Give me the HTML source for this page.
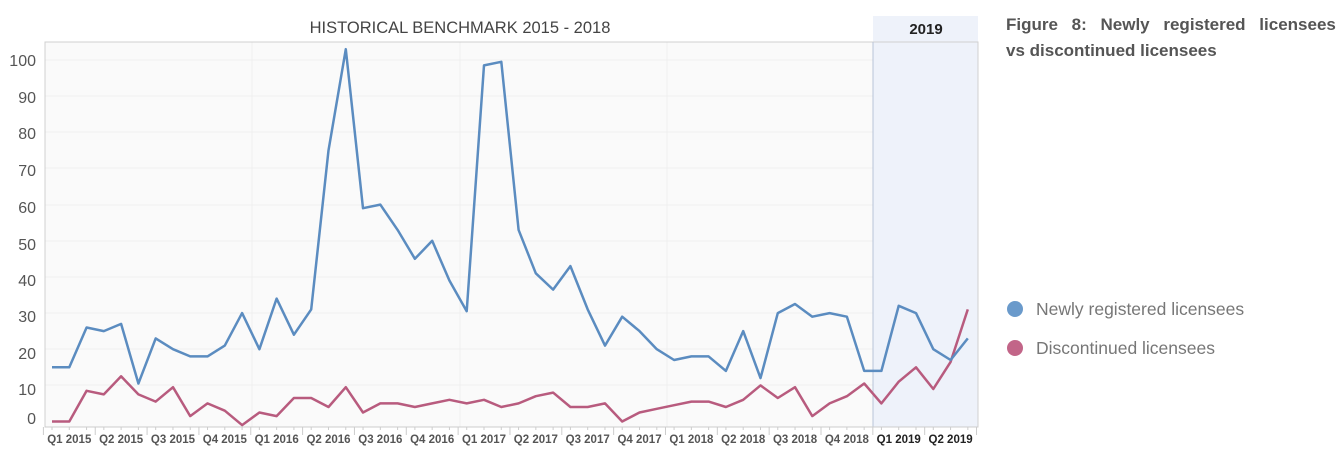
<!DOCTYPE html>
<html><head><meta charset="utf-8"><style>
body{margin:0;background:#fff;width:1343px;height:459px;overflow:hidden;font-family:"Liberation Sans",sans-serif}
svg{display:block}
</style></head><body>
<svg id="s" width="1343" height="459" xmlns="http://www.w3.org/2000/svg" font-family="Liberation Sans, sans-serif">
<rect x="45" y="42" width="828" height="385" fill="#fafafa"/>
<rect x="873" y="16" width="105" height="411" fill="#eef2fa"/>
<g stroke="#f0f0f0" stroke-width="1">
<line x1="45" y1="60" x2="873" y2="60"/><line x1="45" y1="96" x2="873" y2="96"/><line x1="45" y1="132" x2="873" y2="132"/><line x1="45" y1="168" x2="873" y2="168"/><line x1="45" y1="205" x2="873" y2="205"/><line x1="45" y1="241" x2="873" y2="241"/><line x1="45" y1="277" x2="873" y2="277"/><line x1="45" y1="313" x2="873" y2="313"/><line x1="45" y1="349" x2="873" y2="349"/><line x1="45" y1="385" x2="873" y2="385"/>
<line x1="252" y1="42" x2="252" y2="427"/><line x1="460" y1="42" x2="460" y2="427"/><line x1="667" y1="42" x2="667" y2="427"/>
</g>
<rect x="45" y="42" width="933" height="385" fill="none" stroke="#d0d0d0"/>
<line x1="873" y1="42" x2="873" y2="427" stroke="#b8c4d8"/>
<line x1="45" y1="427" x2="978" y2="427" stroke="#ccc"/>
<g id="ticks" stroke="#ccc"></g>
<text x="460" y="33" font-size="16.5" fill="#444" text-anchor="middle">HISTORICAL BENCHMARK 2015 - 2018</text>
<text x="926" y="34" font-size="15" font-weight="bold" fill="#222" text-anchor="middle">2019</text>
<g font-size="16" fill="#555" text-anchor="end">
<text x="36" y="66">100</text><text x="36" y="103">90</text><text x="36" y="139">80</text><text x="36" y="176">70</text><text x="36" y="213">60</text><text x="36" y="250">50</text><text x="36" y="286">40</text><text x="36" y="322">30</text><text x="36" y="359">20</text><text x="36" y="395">10</text><text x="36" y="424">0</text>
</g>
<g id="xl" font-size="11.5" font-weight="bold" fill="#555" text-anchor="middle"></g>
<polyline id="red" fill="none" stroke="#b85b7e" stroke-width="2.5" stroke-linejoin="round"/>
<polyline id="blue" fill="none" stroke="#5b8cc0" stroke-width="2.5" stroke-linejoin="round"/>
<text x="1006" y="30" font-size="17" font-weight="bold" fill="#555" word-spacing="9">Figure 8: Newly registered licensees</text>
<text x="1006" y="56" font-size="17" font-weight="bold" fill="#555">vs discontinued licensees</text>
<circle cx="1015" cy="309" r="8" fill="#6a9acb"/>
<circle cx="1015" cy="348" r="8" fill="#c26588"/>
<text x="1036" y="315" font-size="17.5" fill="#777">Newly registered licensees</text>
<text x="1036" y="354" font-size="17.5" fill="#777">Discontinued licensees</text>
</svg>
<script>
var B=[15,15,26,25,27,10.5,23,20,18,18,21,30,20,34,24,31,75,103,59,60,53,45,50,39,30.5,98.5,99.5,53,41,36.5,43,31,21,29,25,20,17,18,18,14,25,12,30,32.5,29,30,29,14,14,32,30,20,17,23];
var R=[0,0,8.5,7.5,12.5,7.5,5.5,9.5,1.5,5,3,-1,2.5,1.5,6.5,6.5,4,9.5,2.5,5,5,4,5,6,5,6,4,5,7,8,4,4,5,0,2.5,3.5,4.5,5.5,5.5,4,6,10,6.5,9.5,1.5,5,7,10.5,5,11,15,9,16.5,31];
function pts(a){return a.map(function(v,i){return (52+17.28*i).toFixed(1)+","+(421.5-3.615*v).toFixed(1)}).join(" ")}
document.getElementById("blue").setAttribute("points",pts(B));
document.getElementById("red").setAttribute("points",pts(R));
var ns="http://www.w3.org/2000/svg",t=document.getElementById("ticks"),xl=document.getElementById("xl");
for(var i=0;i<54;i++){var l=document.createElementNS(ns,"line");var x=52+17.28*i;l.setAttribute("x1",x);l.setAttribute("x2",x);l.setAttribute("y1",427);l.setAttribute("y2",430);t.appendChild(l);}
for(var k=0;k<=18;k++){var x=43.4+51.84*k;var l=document.createElementNS(ns,"line");l.setAttribute("x1",x);l.setAttribute("x2",x);l.setAttribute("y1",427);l.setAttribute("y2",435);t.appendChild(l);}
var q=["Q1","Q2","Q3","Q4"];
for(var k=0;k<18;k++){var tx=document.createElementNS(ns,"text");tx.setAttribute("x",69.3+51.84*k);tx.setAttribute("y",443);tx.textContent=q[k%4]+" "+(2015+Math.floor(k/4));if(k>=16)tx.setAttribute("fill","#222");xl.appendChild(tx);}
</script>
</body></html>
